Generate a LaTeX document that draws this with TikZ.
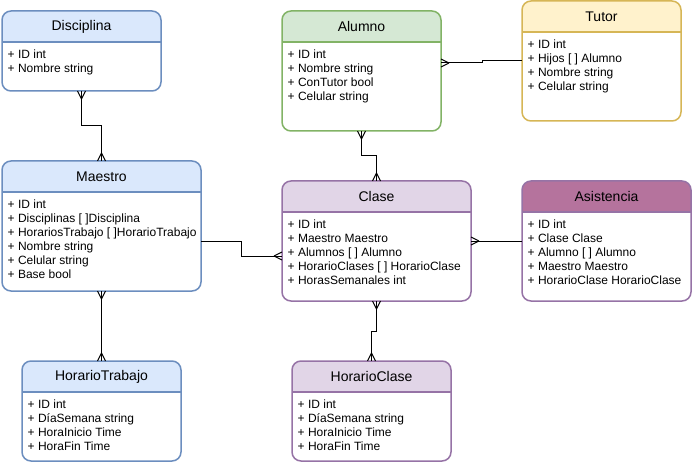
\documentclass[tikz,border=0pt]{standalone}
\usepackage{fontspec}
\setmainfont{Liberation Sans}
\usetikzlibrary{calc}
\definecolor{bluefill}{HTML}{DAE8FC}
\definecolor{bluestroke}{HTML}{6C8EBF}
\definecolor{greenfill}{HTML}{D5E8D4}
\definecolor{greenstroke}{HTML}{82B366}
\definecolor{yellowfill}{HTML}{FFF2CC}
\definecolor{yellowstroke}{HTML}{D6B656}
\definecolor{purplefill}{HTML}{E1D5E7}
\definecolor{purplestroke}{HTML}{9673A6}
\definecolor{asisfill}{HTML}{B5739D}
\tikzset{
  boxgeom/.style={inner sep=0pt, outer sep=0pt, rectangle},
  boxline/.style={line width=1.5pt, rounded corners=9pt},
  sepline/.style={line width=1.5pt},
  titletext/.style={inner sep=0pt, font=\fontsize{14}{16}\selectfont, text=black},
  fieldtext/.style={inner sep=0pt, font=\fontsize{12}{14}\selectfont, text=black, anchor=base west},
  conn/.style={line width=1pt, black},
}
% name, x, y, w, h, fill, stroke, title, lines
\newcommand{\entity}[9]{%
  \node[boxgeom, minimum width=#4pt, minimum height=#5pt, anchor=north west] (#1) at (#2,#3) {};
  \fill[white, rounded corners=9pt] (#1.north west) rectangle (#1.south east);
  \begin{scope}
    \clip[rounded corners=9pt] (#1.north west) rectangle (#1.south east);
    \fill[#6] (#1.north west) rectangle ($(#1.north east)+(0,31)$);
  \end{scope}
  \draw[sepline, draw=#7] ($(#1.north west)+(0,31)$) -- ($(#1.north east)+(0,31)$);
  \draw[boxline, draw=#7] (#1.north west) rectangle (#1.south east);
  \node[titletext] (#1-t) at ($(#1.north)+(0,15.5)$) {#8};
  \foreach \t [count=\i] in {#9} {
    \node[fieldtext] (#1-\i) at ($(#1.north west)+(5.5,{47.3+14*(\i-1)})$) {\t};
  }
}
% crow's foot: point, dx, dy (outward direction)
\newcommand{\crow}[3]{%
  \draw[conn] ($(#1)+({8*(#2)},{8*(#3)})$) -- ($(#1)+({4*(#3)},{-4*(#2)})$)
              ($(#1)+({8*(#2)},{8*(#3)})$) -- ($(#1)+({-4*(#3)},{4*(#2)})$);
}
\begin{document}
\begin{tikzpicture}[x=1pt, y=-1pt]
\useasboundingbox (0,0) rectangle (692,462);

\entity{disc}{2}{11}{159}{80}{bluefill}{bluestroke}{Disciplina}{{+ ID int},{+ Nombre string}}
\entity{alu}{282}{11}{159}{120}{greenfill}{greenstroke}{Alumno}{{+ ID int},{+ Nombre string},{+ ConTutor bool},{+ Celular string}}
\entity{tut}{522}{1}{159}{120}{yellowfill}{yellowstroke}{Tutor}{{+ ID int},{+ Hijos [ ] Alumno},{+ Nombre string},{+ Celular string}}
\entity{mae}{2}{161}{199}{130}{bluefill}{bluestroke}{Maestro}{{+ ID int},{+ Disciplinas [ ]Disciplina},{+ HorariosTrabajo [ ]HorarioTrabajo},{+ Nombre string},{+ Celular string},{+ Base bool}}
\entity{cla}{282}{181}{189}{120}{purplefill}{purplestroke}{Clase}{{+ ID int},{+ Maestro Maestro},{+ Alumnos [ ] Alumno},{+ HorarioClases [ ] HorarioClase},{+ HorasSemanales int}}
\entity{asi}{522}{181}{169}{120}{asisfill}{purplestroke}{Asistencia}{{+ ID int},{+ Clase Clase},{+ Alumno [ ] Alumno},{+ Maestro Maestro},{+ HorarioClase HorarioClase}}
\entity{ht}{22}{361}{159}{100}{bluefill}{bluestroke}{HorarioTrabajo}{{+ ID int},{+ DíaSemana string},{+ HoraInicio Time},{+ HoraFin Time}}
\entity{hc}{292}{361}{159}{100}{purplefill}{purplestroke}{HorarioClase}{{+ ID int},{+ DíaSemana string},{+ HoraInicio Time},{+ HoraFin Time}}

\coordinate (aluR) at ($(alu.north east)+(0,52)$);
\coordinate (maeR) at ($(mae.north east)+(0,80)$);
\coordinate (claL) at ($(cla.north west)+(0,75)$);

% connectors
\draw[conn] (disc.south) -- ++(0,35) -| (mae.north);
\draw[conn] (alu.south) -- ++(0,25) -| (cla.north);
\draw[conn] (tut.west) -- ++(-40,0) |- (aluR);
\draw[conn] (maeR) -- ++(40,0) |- (claL);
\draw[conn] (asi.west) -- (cla.east);
\draw[conn] (mae.south) -- (ht.north);
\draw[conn] (cla.south) -- ++(0,30) -| (hc.north);

% crow's feet
\crow{disc.south}{0}{1}
\crow{mae.north}{0}{-1}
\crow{alu.south}{0}{1}
\crow{cla.north}{0}{-1}
\crow{aluR}{1}{0}
\crow{claL}{-1}{0}
\crow{cla.east}{1}{0}
\crow{mae.south}{0}{1}
\crow{ht.north}{0}{-1}
\crow{cla.south}{0}{1}
\crow{hc.north}{0}{-1}
\end{tikzpicture}
\end{document}
